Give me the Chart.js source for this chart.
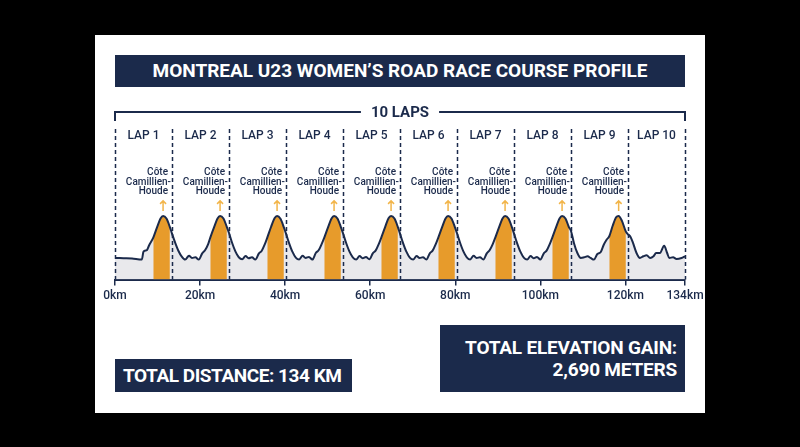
<!DOCTYPE html>
<html>
<head>
<meta charset="utf-8">
<script src="https://cdn.jsdelivr.net/npm/chart.js@4.4.1/dist/chart.umd.min.js"></script>
<style>
    html, body { margin: 0; padding: 0; background: #000; }
    body { width: 800px; height: 447px; position: relative; overflow: hidden; font-family: Roboto, "DejaVu Sans", sans-serif; }
    #card { position: absolute; left: 95px; top: 35px; width: 610px; height: 378px; background: #fff; }
    #profileChart { position: absolute; left: 0; top: 0; }
    .box { position: absolute; background: #1b2a4b; color: #fff; font-weight: 700; box-sizing: border-box; white-space: nowrap; }
    #title { left: 115px; top: 55px; width: 570px; height: 32px; line-height: 32px; text-align: center; font-size: 19px; }
    #distance { left: 115px; top: 359px; width: 237px; height: 33px; line-height: 33px; font-size: 19px; padding-left: 8px; letter-spacing: -0.45px; }
    #gain { left: 440px; top: 325px; width: 245px; height: 67px; font-size: 19px; text-align: right; padding: 12px 8px 0 0; line-height: 22px; letter-spacing: -0.2px; }
</style>
</head>
<body>
<div id="card"></div>
<canvas id="profileChart" width="800" height="447"></canvas>
<div class="box" id="title">MONTREAL U23 WOMEN’S ROAD RACE COURSE PROFILE</div>
<div class="box" id="distance">TOTAL DISTANCE: 134 KM</div>
<div class="box" id="gain">TOTAL ELEVATION GAIN:<br>2,690 METERS</div>
<script>
// Adatok
const totalKm = 134;
const lapStartKm = [0, 13.4, 26.8, 40.2, 53.6, 67.0, 80.4, 93.8, 107.2, 120.6];
const lapLabels = ['LAP 1', 'LAP 2', 'LAP 3', 'LAP 4', 'LAP 5', 'LAP 6', 'LAP 7', 'LAP 8', 'LAP 9', 'LAP 10'];
const lapsLabel = '10 LAPS';
const climbStartKm = [9.0, 22.4, 35.8, 49.2, 62.6, 76.0, 89.4, 102.8, 116.2];
const climbEndKm = [12.9, 26.3, 39.7, 53.1, 66.5, 79.9, 93.3, 106.7, 120.1];
const climbName = ['Côte', 'Camillien-', 'Houde'];
const xTickKm = [0, 20, 40, 60, 80, 100, 120, 134];

const distKm = [
    0, 2.0, 4.0, 6.3, 6.7, 7.5, 8.0, 9.0, 9.9, 10.7, 11.3, 12.1, 12.9,
    13.4, 14.1, 14.9, 15.7, 16.5, 17.4, 18.1, 18.9, 19.7, 20.5, 21.2, 21.9, 22.4, 23.3, 24.1, 24.7, 25.5, 26.3,
    26.8, 27.5, 28.3, 29.1, 29.9, 30.7, 31.4, 32.2, 33.0, 33.8, 34.5, 35.2, 35.8, 36.7, 37.5, 38.1, 38.9, 39.7,
    40.2, 40.9, 41.7, 42.5, 43.3, 44.1, 44.8, 45.6, 46.4, 47.2, 47.9, 48.6, 49.2, 50.1, 50.9, 51.5, 52.3, 53.1,
    53.6, 54.3, 55.1, 55.9, 56.7, 57.5, 58.2, 59.0, 59.8, 60.6, 61.3, 62.0, 62.6, 63.5, 64.3, 64.9, 65.7, 66.5,
    67.0, 67.7, 68.5, 69.3, 70.1, 70.9, 71.6, 72.4, 73.2, 74.0, 74.7, 75.4, 76.0, 76.9, 77.7, 78.3, 79.1, 79.9,
    80.4, 81.1, 81.9, 82.7, 83.5, 84.3, 85.0, 85.8, 86.6, 87.4, 88.1, 88.8, 89.4, 90.3, 91.1, 91.7, 92.5, 93.3,
    93.8, 94.5, 95.3, 96.1, 96.9, 97.7, 98.4, 99.2, 100.0, 100.8, 101.5, 102.2, 102.8, 103.7, 104.5, 105.1, 105.9, 106.7,
    107.2, 107.9, 108.7, 109.5, 110.3, 111.1, 111.8, 112.6, 113.4, 114.2, 114.9, 115.6, 116.2, 117.0, 117.8, 118.4, 119.2, 120.1,
    120.6, 121.2, 121.8, 122.6, 123.4, 124.2, 125.0, 125.8, 126.6, 127.2, 128.1, 129.1, 129.8, 130.3, 131.2, 132.0, 133.2, 134
];
const elevM = [
    66, 65, 64, 61, 85, 90, 104, 128, 160, 186, 194, 186, 160,
    140, 114, 88, 70, 61, 73, 66, 68, 61, 80, 90, 108, 128, 160, 186, 194, 186, 160,
    142, 113, 86, 68, 62, 72, 65, 68, 61, 79, 88, 107, 128, 161, 187, 194, 185, 159,
    140, 112, 85, 67, 61, 73, 66, 69, 61, 81, 90, 109, 128, 160, 186, 194, 186, 160,
    141, 113, 86, 68, 61, 72, 65, 69, 62, 80, 89, 108, 128, 160, 187, 194, 186, 160,
    140, 112, 85, 67, 61, 72, 66, 68, 61, 80, 89, 108, 128, 160, 186, 194, 186, 160,
    141, 113, 86, 68, 61, 73, 66, 68, 61, 80, 90, 108, 128, 160, 186, 194, 186, 160,
    140, 112, 85, 67, 61, 72, 65, 69, 61, 80, 89, 108, 128, 160, 186, 194, 186, 160,
    148, 111, 81, 66, 68, 71, 66, 61, 78, 84, 106, 122, 132, 164, 190, 194, 178, 146,
    138, 130, 111, 81, 66, 71, 74, 66, 71, 81, 81, 103, 81, 66, 68, 63, 66, 71
];

const navy = '#1b2a4b';
const orange = '#e79b2b';
const arrowColor = '#f2b54a';
const fillGrey = '#e9e9ec';

const profile = distKm.map((d, i) => ({ x: d, y: elevM[i] }));
const climbPts = distKm.map((d, i) => {
    const inClimb = climbStartKm.some((s, j) => d >= s && d <= climbEndKm[j]);
    return { x: d, y: inClimb ? elevM[i] : null };
});

// Feliratok, szaggatott vonalak, nyilak
const overlay = {
    id: 'overlay',
    afterDatasetsDraw(chart) {
        const { ctx, chartArea, scales: { x, y } } = chart;
        const base = y.getPixelForValue(0);
        const top = chartArea.top;
        const bounds = lapStartKm.concat([totalKm]);
        ctx.save();

        // kör határok
        ctx.strokeStyle = navy;
        ctx.lineWidth = 1.5;
        ctx.setLineDash([4, 3]);
        bounds.forEach(km => {
            const px = Math.round(x.getPixelForValue(km)) + 0.5;
            ctx.beginPath();
            ctx.moveTo(px, top + 7);
            ctx.lineTo(px, base);
            ctx.stroke();
        });
        ctx.setLineDash([]);

        // 10 LAPS zárójel
        const x0 = x.getPixelForValue(0);
        const x1 = x.getPixelForValue(totalKm);
        const mid = (x0 + x1) / 2;
        const by = top - 10;
        ctx.font = '700 15px Roboto, sans-serif';
        const tw = ctx.measureText(lapsLabel).width;
        ctx.lineWidth = 2;
        ctx.beginPath();
        ctx.moveTo(x0, by + 9);
        ctx.lineTo(x0, by);
        ctx.lineTo(mid - tw / 2 - 10, by);
        ctx.moveTo(mid + tw / 2 + 10, by);
        ctx.lineTo(x1, by);
        ctx.lineTo(x1, by + 9);
        ctx.stroke();
        ctx.fillStyle = navy;
        ctx.textAlign = 'center';
        ctx.textBaseline = 'middle';
        ctx.fillText(lapsLabel, mid, by + 1);

        // kör címkék
        ctx.font = '500 12px Roboto, sans-serif';
        lapLabels.forEach((lab, i) => {
            const cx = (x.getPixelForValue(bounds[i]) + x.getPixelForValue(bounds[i + 1])) / 2;
            ctx.fillText(lab, cx, top + 14);
        });

        // emelkedők
        climbStartKm.forEach((s, j) => {
            let peak = null;
            distKm.forEach((d, i) => {
                if (d >= s && d <= climbEndKm[j] && (peak === null || elevM[i] > peak.y)) peak = { x: d, y: elevM[i] };
            });
            const px = x.getPixelForValue(peak.x);
            const py = y.getPixelForValue(peak.y);
            const rx = x.getPixelForValue(lapStartKm[j + 1]) - 4;

            ctx.strokeStyle = arrowColor;
            ctx.lineWidth = 1.5;
            ctx.beginPath();
            ctx.moveTo(px, py - 5);
            ctx.lineTo(px, py - 15);
            ctx.moveTo(px - 3, py - 12);
            ctx.lineTo(px, py - 15);
            ctx.lineTo(px + 3, py - 12);
            ctx.stroke();

            ctx.fillStyle = navy;
            ctx.font = '500 10px Roboto, sans-serif';
            ctx.textAlign = 'right';
            ctx.fillText(climbName[0], rx, py - 43);
            ctx.fillText(climbName[1], rx + 3, py - 33.5);
            ctx.fillText(climbName[2], rx, py - 24);
        });
        ctx.restore();
    }
};

const chart = new Chart(document.getElementById('profileChart'), {
    type: 'line',
    data: {
        datasets: [
            {
                data: profile,
                borderColor: navy,
                borderWidth: 2,
                fill: false,
                pointRadius: 0,
                cubicInterpolationMode: 'monotone',
                order: 0
            },
            {
                data: climbPts,
                borderColor: 'rgba(0,0,0,0)',
                borderWidth: 1,
                backgroundColor: orange,
                fill: 'origin',
                pointRadius: 0,
                spanGaps: false,
                cubicInterpolationMode: 'monotone',
                order: 1
            },
            {
                data: profile,
                borderColor: 'rgba(0,0,0,0)',
                borderWidth: 1,
                backgroundColor: fillGrey,
                fill: 'origin',
                pointRadius: 0,
                cubicInterpolationMode: 'monotone',
                order: 2
            }
        ]
    },
    options: {
        responsive: false,
        animation: false,
        layout: { padding: { left: 115, right: 115, top: 122, bottom: 141 } },
        plugins: {
            legend: { display: false },
            tooltip: { enabled: false }
        },
        scales: {
            x: {
                type: 'linear',
                min: 0,
                max: totalKm,
                afterBuildTicks: s => { s.ticks = xTickKm.map(v => ({ value: v })); },
                ticks: {
                    callback: v => v + 'km',
                    color: navy,
                    font: { family: 'Roboto', size: 12, weight: '500' },
                    padding: 3,
                    maxRotation: 0,
                    autoSkip: false
                },
                grid: { drawOnChartArea: false, drawTicks: true, tickLength: 6, color: navy, lineWidth: 1.5 },
                border: { color: navy, width: 2 }
            },
            y: { display: false, min: 0, max: 480 }
        }
    },
    plugins: [overlay]
});
</script>
</body>
</html>
